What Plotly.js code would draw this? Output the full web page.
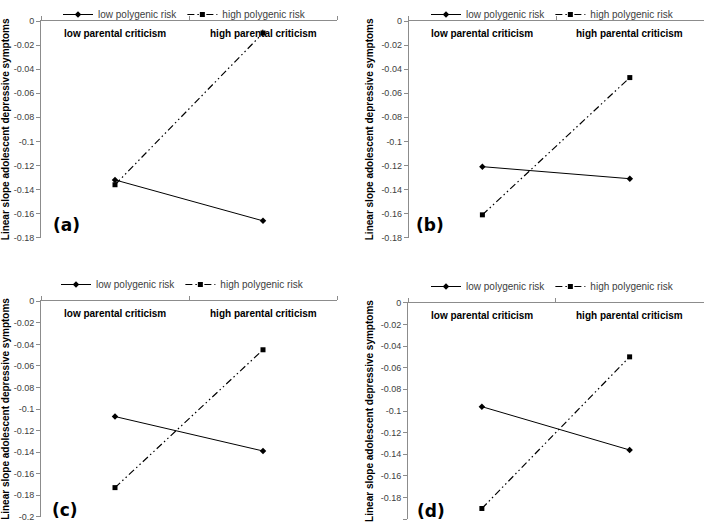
<!DOCTYPE html>
<html>
<head>
<meta charset="utf-8">
<script src="https://cdn.plot.ly/plotly-3.0.1.min.js"></script>
<style>html,body{margin:0;padding:0;background:#fff;}#chart{width:704px;height:523px;}</style>
</head>
<body>
<div id="chart"></div>
<script>
// ---- data ----
var categories = ["low parental criticism", "high parental criticism"];
var seriesNames = ["low polygenic risk", "high polygenic risk"];
var panelLabels = ["(a)", "(b)", "(c)", "(d)"];

var lowRiskA = [-0.132, -0.166];
var highRiskA = [-0.136, -0.010];
var lowRiskB = [-0.121, -0.131];
var highRiskB = [-0.161, -0.047];
var lowRiskC = [-0.107, -0.139];
var highRiskC = [-0.173, -0.045];
var lowRiskD = [-0.096, -0.136];
var highRiskD = [-0.190, -0.050];

var yTickValsAB = [0, -0.02, -0.04, -0.06, -0.08, -0.1, -0.12, -0.14, -0.16, -0.18];
var yTickTextAB = ["0", "-0.02", "-0.04", "-0.06", "-0.08", "-0.1", "-0.12", "-0.14", "-0.16", "-0.18"];
var yTickValsCD = [0, -0.02, -0.04, -0.06, -0.08, -0.1, -0.12, -0.14, -0.16, -0.18, -0.2];
var yTickTextCD = ["0", "-0.02", "-0.04", "-0.06", "-0.08", "-0.1", "-0.12", "-0.14", "-0.16", "-0.18", "-0.2"];
var yAxisTitle = "Linear slope adolescent depressive symptoms";

// ---- layout geometry ----
var W = 704, H = 523;
var panels = [
  {low: lowRiskA, high: highRiskA, xd: [41, 337], yd: [21, 237.7], ymin: -0.18, tv: yTickValsAB, tt: yTickTextAB,
   leg: {x: 58, y: 0}, lab: {x: 66, y: 225}},
  {low: lowRiskB, high: highRiskB, xd: [408.7, 703.5], yd: [21, 237.7], ymin: -0.18, tv: yTickValsAB, tt: yTickTextAB,
   leg: {x: 426, y: 0}, lab: {x: 430, y: 225}},
  {low: lowRiskC, high: highRiskC, xd: [41, 337], yd: [301.3, 516.7], ymin: -0.2, tv: yTickValsCD, tt: yTickTextCD,
   leg: {x: 56, y: 270}, lab: {x: 65, y: 510}},
  {low: lowRiskD, high: highRiskD, xd: [408, 703.5], yd: [302.7, 519.3], ymin: -0.2, tv: yTickValsCD, tt: yTickTextCD,
   leg: {x: 426, y: 272}, lab: {x: 431, y: 511}}
];

var FONT = "Liberation Sans, Arial, sans-serif";
var axisColor = "#8c8c8c";
var data = [];
var layout = {
  width: W, height: H,
  margin: {l: 0, r: 0, t: 0, b: 0},
  paper_bgcolor: "#fff", plot_bgcolor: "#fff",
  showlegend: true,
  font: {family: FONT, size: 10, color: "#404040"},
  annotations: []
};

panels.forEach(function (p, i) {
  var n = i + 1;
  var xa = n === 1 ? "x" : "x" + n;
  var ya = n === 1 ? "y" : "y" + n;
  var lg = n === 1 ? "legend" : "legend" + n;
  data.push({
    type: "scatter", mode: "lines+markers", x: categories, y: p.low,
    xaxis: xa, yaxis: ya, legend: lg, name: seriesNames[0], showlegend: true,
    line: {color: "#000", width: 1},
    marker: {symbol: "diamond", size: 5, color: "#000"},
    cliponaxis: false
  });
  data.push({
    type: "scatter", mode: "lines+markers", x: categories, y: p.high,
    xaxis: xa, yaxis: ya, legend: lg, name: seriesNames[1], showlegend: true,
    line: {color: "#000", width: 1.2, dash: "7px,3px,1.5px,3px,1.5px,3px"},
    marker: {symbol: "square", size: 5, color: "#000"},
    cliponaxis: false
  });
  var xkey = n === 1 ? "xaxis" : "xaxis" + n;
  var ykey = n === 1 ? "yaxis" : "yaxis" + n;
  layout[xkey] = {
    type: "category", categoryorder: "array", categoryarray: categories,
    range: [-0.5, 1.5], domain: [p.xd[0] / W, p.xd[1] / W],
    anchor: ya, side: "top", showticklabels: false,
    tickson: "boundaries", ticks: "outside", ticklen: 4, tickcolor: axisColor,
    showline: true, linecolor: axisColor, linewidth: 1,
    showgrid: false, zeroline: false, fixedrange: true
  };
  layout[ykey] = {
    range: [p.ymin, 0], domain: [1 - p.yd[1] / H, 1 - p.yd[0] / H],
    anchor: xa, tickmode: "array", tickvals: p.tv, ticktext: p.tt,
    ticks: "outside", ticklen: 4, tickcolor: axisColor,
    showline: true, linecolor: axisColor, linewidth: 1,
    showgrid: false, zeroline: false, fixedrange: true,
    tickfont: {family: FONT, size: 9, color: "#404040"},
    title: {text: yAxisTitle, font: {family: FONT, size: 10, color: "#000", weight: "bold"}, standoff: 5}
  };
  layout[lg] = {
    orientation: "h", x: p.leg.x / W, xanchor: "left", y: 1 - p.leg.y / H, yanchor: "top",
    font: {family: FONT, size: 10, color: "#404040"}, bgcolor: "rgba(0,0,0,0)",
    itemclick: false, itemdoubleclick: false
  };
  // category labels sit just under the top axis line, at the category positions
  categories.forEach(function (c) {
    layout.annotations.push({
      text: c, xref: xa, yref: ya + " domain", x: c, y: 1, yshift: -5,
      xanchor: "center", yanchor: "top", showarrow: false,
      font: {family: FONT, size: 10, color: "#000", weight: "bold"}
    });
  });
  layout.annotations.push({
    text: panelLabels[i], xref: "paper", yref: "paper",
    x: p.lab.x / W, y: 1 - p.lab.y / H, xanchor: "center", yanchor: "middle",
    showarrow: false, font: {family: "DejaVu Sans, Verdana, sans-serif", size: 17, color: "#000", weight: "bold"}
  });
});

Plotly.newPlot("chart", data, layout, {displayModeBar: false, staticPlot: true});
</script>
</body>
</html>
